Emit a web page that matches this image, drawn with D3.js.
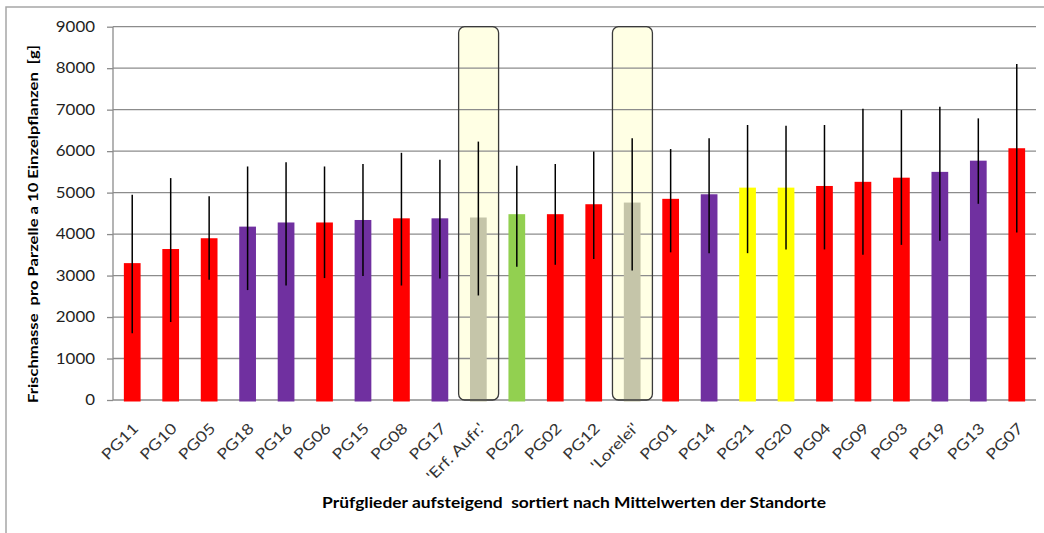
<!DOCTYPE html>
<html><head><meta charset="utf-8">
<script src="https://cdn.jsdelivr.net/npm/d3@7"></script>
<style>
html,body{margin:0;padding:0;background:#fff;}
svg{display:block;}
text{font-family:Lato,"Open Sans",sans-serif;}
</style></head>
<body>
<svg id="chart" width="1044" height="533"></svg>
<script>
const categories = ["PG11","PG10","PG05","PG18","PG16","PG06","PG15","PG08","PG17","'Erf. Aufr.'","PG22","PG02","PG12","'Lorelei'","PG01","PG14","PG21","PG20","PG04","PG09","PG03","PG19","PG13","PG07"];
const means = [3300,3640,3900,4180,4280,4280,4340,4380,4380,4400,4480,4480,4720,4760,4850,4960,5120,5120,5160,5260,5360,5500,5770,6070];
const upper = [4950,5350,4910,5630,5730,5630,5690,5960,5790,6230,5650,5690,5990,6310,6050,6310,6630,6610,6630,7020,6990,7070,6790,8100];
const lower = [1610,1880,2900,2650,2760,2940,2990,2760,2930,2520,3210,3260,3400,3120,3560,3540,3540,3630,3630,3500,3740,3840,4730,4040];
const groups = ["red","red","red","purple","purple","red","purple","red","purple","check","green","red","red","check","red","purple","yellow","yellow","red","red","red","purple","purple","red"];
const yTicks = [0,1000,2000,3000,4000,5000,6000,7000,8000,9000];
const yTitle = "Frischmasse  pro Parzelle a 10 Einzelpflanzen  [g]";
const xTitle = "Prüfglieder aufsteigend  sortiert nach Mittelwerten der Standorte";

const colorMap = {red:"#FF0000", purple:"#7030A0", green:"#92D050", yellow:"#FFFF00", check:"#C5C5A9"};

const svg = d3.select("#chart");
const L = 113, R = 1036, T = 26.7, B = 400;

const x = d3.scaleBand().domain(categories).range([L, R]).paddingInner(0).paddingOuter(0);
const y = d3.scaleLinear().domain([0, 9000]).range([B, T]);
const bw = x.bandwidth();
const barW = bw * 0.435;

// outer frame
svg.append("path").attr("d", "M6,533 L6,7 L1044,7").attr("fill","none").attr("stroke","#a6a6a6").attr("stroke-width",1.5);

const data = categories.map((c,i)=>({c, m:means[i], hi:upper[i], lo:lower[i], g:groups[i]}));

// highlight boxes (fill)
const hl = data.filter(d=>d.g==="check");
svg.append("g").selectAll("rect").data(hl).join("rect")
  .attr("x", d=>x(d.c)-0.5).attr("width", bw+1.5)
  .attr("y", y(9000)).attr("height", y(0)-y(9000))
  .attr("rx",6).attr("ry",6)
  .attr("fill","#FFFFE4").attr("stroke","none");

// gridlines
svg.append("g").selectAll("line").data(yTicks).join("line")
  .attr("x1", L).attr("x2", R)
  .attr("y1", d=>y(d)).attr("y2", d=>y(d))
  .attr("stroke","#8c8c8c").attr("stroke-width",1.3);

// y axis
const yAxis = svg.append("g").attr("transform",`translate(${L},0)`)
  .call(d3.axisLeft(y).tickValues(yTicks).tickSize(6).tickPadding(12).tickFormat(d3.format("d")));
yAxis.select(".domain").attr("stroke","#8c8c8c").attr("stroke-width",1.3).attr("d",`M0,${T}V${B}`);
yAxis.selectAll(".tick line").attr("stroke","#8c8c8c").attr("stroke-width",1.3);
yAxis.selectAll(".tick text").attr("font-size",14.5).attr("fill","#1f1f1f")
  .style("font-family","Lato, sans-serif")
  .attr("textLength", d=>String(d).length*9.8).attr("lengthAdjust","spacingAndGlyphs");

// bars
svg.append("g").selectAll("rect").data(data).join("rect")
  .attr("x", d=>x(d.c)+(bw-barW)/2).attr("width", barW)
  .attr("y", d=>y(d.m)).attr("height", d=>y(0)-y(d.m)+1.5)
  .attr("fill", d=>colorMap[d.g]);

// highlight boxes (stroke)
svg.append("g").selectAll("rect").data(hl).join("rect")
  .attr("x", d=>x(d.c)-0.5).attr("width", bw+1.5)
  .attr("y", y(9000)).attr("height", y(0)-y(9000))
  .attr("rx",6).attr("ry",6)
  .attr("fill","none").attr("stroke","#3a3a3a").attr("stroke-width",1.3);

// error bars
svg.append("g").selectAll("line").data(data).join("line")
  .attr("x1", d=>x(d.c)+bw/2).attr("x2", d=>x(d.c)+bw/2)
  .attr("y1", d=>y(d.hi)).attr("y2", d=>y(d.lo))
  .attr("stroke","#000").attr("stroke-width",1.5);

// x labels
const xl = svg.append("g").selectAll("text").data(categories).join("text")
  .attr("transform", d=>`translate(${x(d)+bw/2+3},${425}) rotate(-45)`)
  .attr("text-anchor","end").attr("dominant-baseline","central")
  .attr("font-size",15).attr("fill","#333")
  .text(d=>d);
xl.each(function(){ const n=this.getComputedTextLength(); d3.select(this).attr("textLength", n*1.2).attr("lengthAdjust","spacingAndGlyphs"); });

// axis titles
svg.append("text").attr("x", 574).attr("y", 508).attr("text-anchor","middle")
  .attr("font-size",15).attr("font-weight","bold").attr("fill","#000")
  .style("white-space","pre")
  .attr("textLength",504).attr("lengthAdjust","spacingAndGlyphs")
  .text(xTitle);

svg.append("text").attr("transform","translate(38,224) rotate(-90)").attr("text-anchor","middle")
  .attr("font-size",14).attr("font-weight","bold").attr("fill","#000")
  .style("white-space","pre")
  .attr("textLength",358).attr("lengthAdjust","spacingAndGlyphs")
  .text(yTitle);
</script>
</body></html>
